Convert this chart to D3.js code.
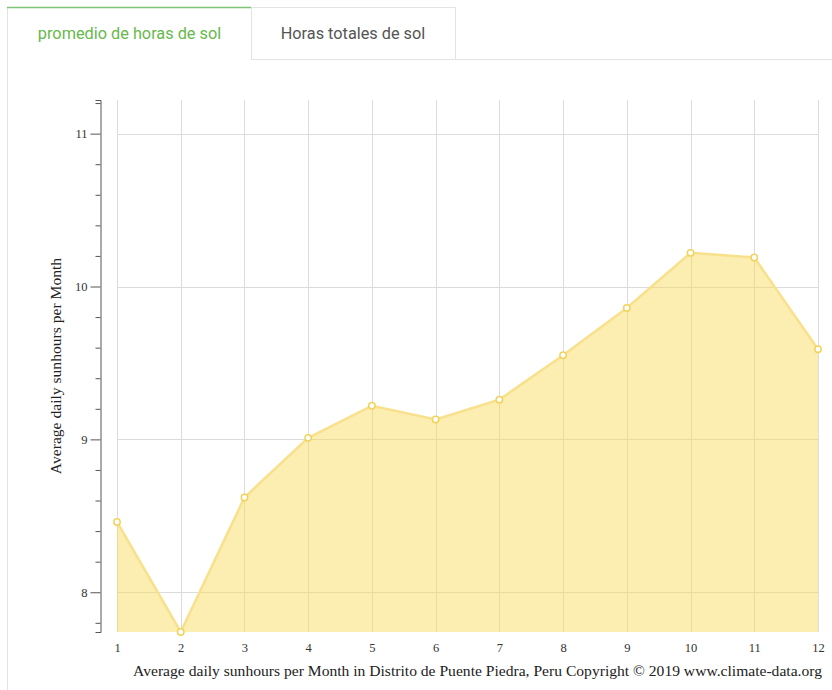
<!DOCTYPE html>
<html>
<head>
<meta charset="utf-8">
<script src="https://cdn.jsdelivr.net/npm/d3@7"></script>
<style>
  html, body { margin: 0; padding: 0; background: #fff; }
  svg { display: block; }
</style>
</head>
<body>
<svg id="chart" width="832" height="690"></svg>
<script>
// ---- data ----
const months = [1, 2, 3, 4, 5, 6, 7, 8, 9, 10, 11, 12];
const sunHours = [8.46, 7.74, 8.62, 9.01, 9.22, 9.13, 9.26, 9.55, 9.86, 10.22, 10.19, 9.59];
const yTicks = [8, 9, 10, 11];
const tabLabels = ["promedio de horas de sol", "Horas totales de sol"];
const yTitle = "Average daily sunhours per Month";
const caption = "Average daily sunhours per Month in Distrito de Puente Piedra, Peru Copyright \u00A9 2019 www.climate-data.org";

const svg = d3.select("#chart");
const serif = "'Liberation Serif', 'Times New Roman', serif";

// ---- tabs ----
const tabs = svg.append("g");
tabs.append("line").attr("x1", 7.5).attr("x2", 7.5).attr("y1", 7).attr("y2", 690)
  .attr("stroke", "#e3e3e3").attr("stroke-width", 1);
tabs.append("line").attr("x1", 251).attr("x2", 832).attr("y1", 59.5).attr("y2", 59.5)
  .attr("stroke", "#e3e3e3");
tabs.append("path").attr("d", "M251.5,59.5 V7.5 H455.5 V59.5")
  .attr("fill", "none").attr("stroke", "#e3e3e3");
tabs.append("line").attr("x1", 7).attr("x2", 251).attr("y1", 7.5).attr("y2", 7.5)
  .attr("stroke", "#7cc576").attr("stroke-width", 1.5);
tabs.append("text").attr("x", 129.5).attr("y", 38.5).attr("text-anchor", "middle")
  .attr("font-family", "Roboto, 'Open Sans', sans-serif").attr("font-size", 16.3)
  .attr("fill", "#67b84d").text(tabLabels[0]);
tabs.append("text").attr("x", 353).attr("y", 38.5).attr("text-anchor", "middle")
  .attr("font-family", "Roboto, 'Open Sans', sans-serif").attr("font-size", 16.3)
  .attr("fill", "#555").text(tabLabels[1]);

// ---- scales ----
const x = d3.scaleLinear().domain([1, 12]).range([117, 818]);
const yMin = d3.min(sunHours), yMax = d3.max(sunHours) + 1;
const y = d3.scaleLinear().domain([yMin, yMax]).range([632, 100]);

// ---- grid ----
const grid = svg.append("g");
grid.selectAll(".hg").data(yTicks).join("line")
  .attr("x1", x(1)).attr("x2", x(12))
  .attr("y1", d => Math.round(y(d)) + 0.5).attr("y2", d => Math.round(y(d)) + 0.5)
  .attr("stroke", "#dcdcdc");
grid.selectAll(".vg").data(months).join("line")
  .attr("x1", d => Math.round(x(d)) + 0.5).attr("x2", d => Math.round(x(d)) + 0.5)
  .attr("y1", y(yMax)).attr("y2", y(yMin))
  .attr("stroke", "#dcdcdc");

// ---- area + line ----
const area = d3.area().x((d, i) => x(months[i])).y0(y(yMin)).y1(d => y(d));
svg.append("path").datum(sunHours).attr("d", area)
  .attr("fill", "rgba(246, 218, 80, 0.45)");
const line = d3.line().x((d, i) => x(months[i])).y(d => y(d));
svg.append("path").datum(sunHours).attr("d", line)
  .attr("fill", "none").attr("stroke", "#f8e08c").attr("stroke-width", 2.5);
svg.selectAll(".pt").data(sunHours).join("circle")
  .attr("cx", (d, i) => x(months[i])).attr("cy", d => y(d)).attr("r", 3.2)
  .attr("fill", "#fff").attr("stroke", "#f1d35c").attr("stroke-width", 1.5);

// ---- y axis ----
const minorTicks = d3.range(7.8, 11.21, 0.2).map(v => +v.toFixed(1)).filter(v => !yTicks.includes(v));
const yAxisG = svg.append("g").attr("transform", "translate(100.5,0)");
yAxisG.call(d3.axisLeft(y).tickValues(yTicks).tickSize(10).tickSizeOuter(5).tickPadding(3).tickFormat(d3.format("d")));
yAxisG.select(".domain").attr("stroke", "#555");
yAxisG.selectAll(".tick line").attr("stroke", "#555");
yAxisG.selectAll("text").attr("font-family", serif).attr("font-size", 12.5).attr("fill", "#333");
const minorG = svg.append("g").attr("transform", "translate(100.5,0)");
minorG.call(d3.axisLeft(y).tickValues(minorTicks).tickSize(5).tickFormat(""));
minorG.select(".domain").remove();
minorG.selectAll(".tick line").attr("stroke", "#555");

// ---- x axis labels ----
const xAxisG = svg.append("g").attr("transform", "translate(0,632)");
xAxisG.call(d3.axisBottom(x).tickValues(months).tickSize(0).tickPadding(11).tickFormat(d3.format("d")));
xAxisG.select(".domain").remove();
xAxisG.selectAll("text").attr("font-family", serif).attr("font-size", 12.5).attr("fill", "#333");

// ---- titles ----
svg.append("text").attr("transform", "translate(61,366) rotate(-90)")
  .attr("text-anchor", "middle").attr("font-family", serif).attr("font-size", 15.6)
  .attr("fill", "#222").text(yTitle);
svg.append("text").attr("x", 822).attr("y", 675.5).attr("text-anchor", "end")
  .attr("font-family", serif).attr("font-size", 15.6).attr("fill", "#222").text(caption);
</script>
</body>
</html>
